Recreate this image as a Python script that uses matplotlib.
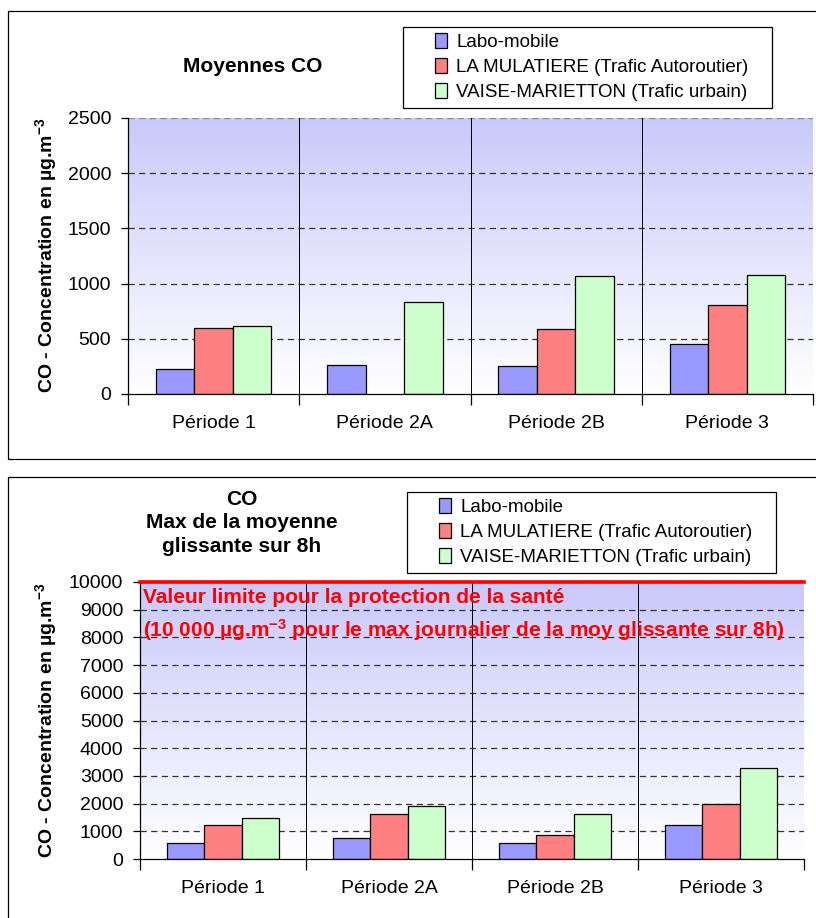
import numpy as np
import matplotlib
matplotlib.use("Agg")
import matplotlib.pyplot as plt
from matplotlib.colors import LinearSegmentedColormap
from matplotlib.patches import Rectangle

plt.rcParams['font.family'] = ['Liberation Sans', 'DejaVu Sans']
plt.rcParams['mathtext.default'] = 'regular'

periodes = ["Période 1", "Période 2A", "Période 2B", "Période 3"]
series = ["Labo-mobile", "LA MULATIERE (Trafic Autoroutier)", "VAISE-MARIETTON (Trafic urbain)"]
couleurs = ["#9999ff", "#ff8080", "#ccffcc"]

# moyennes CO
moy_labo = [223, 266, 251, 456]
moy_mulatiere = [601, np.nan, 586, 806]
moy_vaise = [616, 833, 1066, 1078]

# max de la moyenne glissante sur 8h
max_labo = [578, 746, 566, 1215]
max_mulatiere = [1215, 1612, 854, 1973]
max_vaise = [1492, 1901, 1625, 3297]

W, H = 816, 918
fig = plt.figure(figsize=(W / 100, H / 100), dpi=100)
fig.patch.set_facecolor("white")

grad_cmap = LinearSegmentedColormap.from_list("fond", ["#ffffff", "#c9c9fb"])

TICK_FS = 14
LEG_FS = 13.5
TITLE_FS = 15


def px_axes(left, top, right, bottom):
    return fig.add_axes([left / W, 1 - bottom / H, (right - left) / W, (bottom - top) / H])


def px_box(left, top, right, bottom):
    fig.patches.append(Rectangle((left / W, 1 - bottom / H), (right - left) / W,
                                 (bottom - top) / H, transform=fig.transFigure,
                                 fill=False, edgecolor="black", lw=0.9))


def panel(ax, valeurs, ymax, ystep):
    ax.imshow(np.linspace(1, 0, 256).reshape(-1, 1), cmap=grad_cmap, aspect="auto",
              extent=(0, 1, 0, 1), transform=ax.transAxes, zorder=0)
    x = np.arange(len(periodes))
    bw = 0.225
    for i, (vals, c, lab) in enumerate(zip(valeurs, couleurs, series)):
        ax.bar(x + (i - 1) * bw, vals, width=bw, color=c, edgecolor="black",
               linewidth=0.9, label=lab, zorder=3)
    ax.set_xlim(-0.5, 3.5)
    ax.set_ylim(0, ymax)
    ax.set_yticks(np.arange(0, ymax + 1, ystep))
    ax.set_xticks(x)
    ax.set_xticklabels(periodes, fontsize=TICK_FS)
    ax.set_xticks(np.arange(-0.5, 4, 1), minor=True)
    ax.tick_params(axis="x", which="major", length=0, pad=15)
    ax.tick_params(axis="x", which="minor", length=8, width=0.9, direction="out")
    ax.tick_params(axis="y", length=5, width=0.9, direction="out", labelsize=TICK_FS, pad=7)
    for yv in np.arange(ystep, ymax + 1, ystep):
        ax.axhline(yv, color="#333333" if yv < ymax else "#888888", lw=0.9,
                   dashes=(5, 3.5), zorder=1)
    for xv in np.arange(0.5, 3.5, 1):
        ax.axvline(xv, color="black", lw=0.7, zorder=1)
    for s in ["top", "right"]:
        ax.spines[s].set_visible(False)
    for s in ["left", "bottom"]:
        ax.spines[s].set_linewidth(0.9)
        ax.spines[s].set_zorder(4)


def legende(ax, left, top, right, bottom):
    px_box(left, top, right, bottom)
    ax.legend(loc="upper left", bbox_to_anchor=((left + 26) / W, 1 - top / H),
              bbox_transform=fig.transFigure, fontsize=LEG_FS, frameon=False,
              handlelength=0.65, handleheight=0.9, handletextpad=0.5,
              labelspacing=0.36, borderpad=0.3, borderaxespad=0)


# panel borders
px_box(8, 11, 830, 459)
px_box(8, 477, 830, 930)

ylabel = "CO - Concentration en µg.m$^{-3}$"

# top panel
ax1 = px_axes(128, 118, 813, 394)
panel(ax1, [moy_labo, moy_mulatiere, moy_vaise], 2500, 500)
fig.text(253 / W, 1 - 67 / H, "Moyennes CO", ha="center", va="center",
         fontsize=TITLE_FS, fontweight="bold")
fig.text(46 / W, 1 - 255 / H, ylabel, ha="center", va="center", rotation=90,
         fontsize=14, fontweight="bold")
legende(ax1, 403, 27, 772, 108)

# bottom panel
ax2 = px_axes(140, 582, 804, 859)
panel(ax2, [max_labo, max_mulatiere, max_vaise], 10000, 1000)
ax2.axhline(10000, color="#ff0000", lw=2.6, zorder=5, clip_on=False)
fig.text(242 / W, 1 - 523 / H, "CO\nMax de la moyenne\nglissante sur 8h", ha="center",
         va="center", fontsize=TITLE_FS, fontweight="bold", linespacing=1.3)
fig.text(46 / W, 1 - 720 / H, ylabel, ha="center", va="center", rotation=90,
         fontsize=14, fontweight="bold")
ax2.text(0.005, 0.945, "Valeur limite pour la protection de la santé",
         transform=ax2.transAxes, color="#ff0000", fontsize=15, fontweight="bold",
         ha="left", va="center", zorder=6)
ax2.text(0.005, 0.827,
         "(10 000 µg.m$^{-3}$ pour le max journalier de la moy glissante sur 8h)",
         transform=ax2.transAxes, color="#ff0000", fontsize=15, fontweight="bold",
         ha="left", va="center", zorder=6)
legende(ax2, 407, 492, 776, 573)

fig.savefig("out.png", dpi=100)
